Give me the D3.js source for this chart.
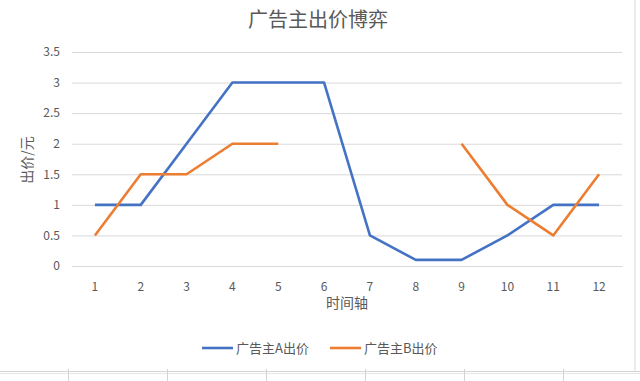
<!DOCTYPE html>
<html>
<head>
<meta charset="utf-8">
<script src="https://cdn.jsdelivr.net/npm/d3@7"></script>
<style>
  body { margin: 0; background: #fff; }
  text { font-family: "Noto Sans CJK SC", "Noto Sans", sans-serif; fill: #595959; }
</style>
</head>
<body>
<script>
// chart data
var months = [1, 2, 3, 4, 5, 6, 7, 8, 9, 10, 11, 12];
var bidA = [1, 1, 2, 3, 3, 3, 0.5, 0.1, 0.1, 0.5, 1, 1];
var bidB = [0.5, 1.5, 1.5, 2, 2, null, null, null, 2, 1, 0.5, 1.5];
var yTicks = [0, 0.5, 1, 1.5, 2, 2.5, 3, 3.5];
var seriesNames = ["广告主A出价", "广告主B出价"];
var seriesColors = ["#4472C4", "#ED7D31"];

var W = 640, H = 381;
var plot = {left: 72, right: 622, top: 52, bottom: 266};

var svg = d3.select("body").append("svg")
  .attr("width", W)
  .attr("height", H);

// chart frame (right border + spreadsheet rows underneath)
svg.append("line")
  .attr("x1", 635).attr("x2", 635).attr("y1", 0).attr("y2", 371)
  .attr("stroke", "#d9d9d9");
svg.append("line")
  .attr("x1", 0).attr("x2", W).attr("y1", 371.5).attr("y2", 371.5)
  .attr("stroke", "#d4d4d4");
svg.append("line")
  .attr("x1", 0).attr("x2", W).attr("y1", 373.5).attr("y2", 373.5)
  .attr("stroke", "#e6e6e6");
[68, 167, 266, 365, 464, 563].forEach(function (x) {
  svg.append("line")
    .attr("x1", x + 0.5).attr("x2", x + 0.5).attr("y1", 369).attr("y2", H)
    .attr("stroke", "#d4d4d4");
});

var x = d3.scaleBand()
  .domain(months)
  .range([plot.left, plot.right]);

var y = d3.scaleLinear()
  .domain([0, 3.5])
  .range([plot.bottom, plot.top]);

// gridlines + y labels
var yAxis = svg.append("g")
  .attr("transform", "translate(" + plot.left + ",0)")
  .call(d3.axisLeft(y).tickValues(yTicks)
    .tickSize(-(plot.right - plot.left))
    .tickPadding(12)
    .tickFormat(function (d) { return d; }));
yAxis.select(".domain").remove();
yAxis.selectAll("line").attr("stroke", "#d9d9d9");
yAxis.selectAll("text")
  .style("font-size", "12px")
  .attr("fill", "#595959");

// x labels
var xAxis = svg.append("g")
  .attr("transform", "translate(0," + plot.bottom + ")")
  .call(d3.axisBottom(x).tickSize(0).tickPadding(16));
xAxis.select(".domain").attr("stroke", "#d9d9d9");
xAxis.selectAll("text")
  .style("font-size", "12px")
  .attr("fill", "#595959");

// titles
svg.append("text")
  .attr("x", 318).attr("y", 27)
  .attr("text-anchor", "middle")
  .style("font-size", "20px")
  .text("广告主出价博弈");

svg.append("text")
  .attr("transform", "translate(32,160) rotate(-90)")
  .attr("text-anchor", "middle")
  .style("font-size", "14px")
  .text("出价/元");

svg.append("text")
  .attr("x", (plot.left + plot.right) / 2).attr("y", 308)
  .attr("text-anchor", "middle")
  .style("font-size", "14px")
  .text("时间轴");

// lines
var line = d3.line()
  .defined(function (d) { return d != null; })
  .x(function (d, i) { return x(months[i]) + x.bandwidth() / 2; })
  .y(function (d) { return y(d); });

[bidA, bidB].forEach(function (s, i) {
  svg.append("path")
    .datum(s)
    .attr("fill", "none")
    .attr("stroke", seriesColors[i])
    .attr("stroke-width", 2.6)
    .attr("stroke-linejoin", "round")
    .attr("d", line);
});

// legend
var legend = svg.append("g").attr("transform", "translate(0,348)");
var legendX = [202, 330];
seriesNames.forEach(function (name, i) {
  var g = legend.append("g").attr("transform", "translate(" + legendX[i] + ",0)");
  g.append("line")
    .attr("x1", 0).attr("x2", 31)
    .attr("stroke", seriesColors[i])
    .attr("stroke-width", 2.6);
  g.append("text")
    .attr("x", 34).attr("y", 4.5)
    .style("font-size", "13px")
    .text(name);
});
</script>
</body>
</html>
